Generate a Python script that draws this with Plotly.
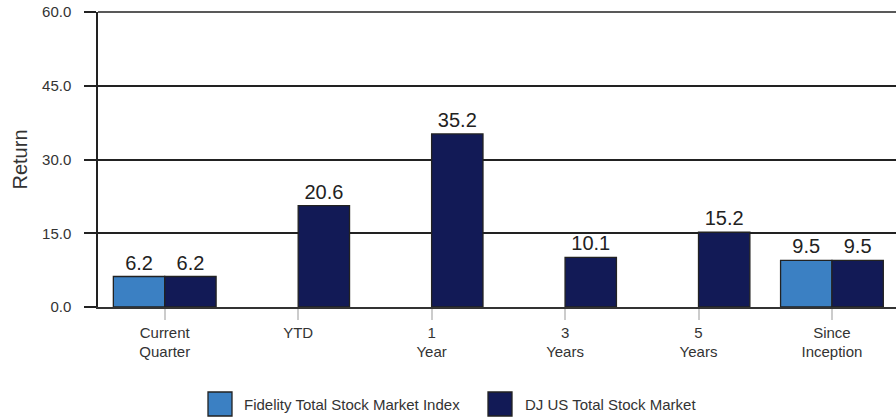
import plotly.graph_objects as go

categories = ["Current<br>Quarter", "YTD", "1<br>Year", "3<br>Years", "5<br>Years", "Since<br>Inception"]
fidelity = [6.2, None, None, None, None, 9.5]
dj_us = [6.2, 20.6, 35.2, 10.1, 15.2, 9.5]
series_names = ["Fidelity Total Stock Market Index", "DJ US Total Stock Market"]
colors = ["#3B80C3", "#121A56"]
y_ticks = [0, 15, 30, 45, 60]

FONT = "Liberation Sans, Arial, sans-serif"

PL, PT, PB, PW = 98, 12, 307, 798
PH = PB - PT

fig = go.Figure()
for name, vals, col in zip(series_names, [fidelity, dj_us], colors):
    fig.add_trace(go.Bar(
        x=categories, y=vals, name=name,
        marker=dict(color=col, line=dict(color="#222222", width=1.3)),
        text=[None if v is None else f"{v:.1f}" for v in vals],
        textposition="outside", cliponaxis=False,
        textfont=dict(size=20, color="#222222", family=FONT),
        showlegend=False, hoverinfo="skip",
    ))

fig.update_layout(
    width=896, height=417,
    margin=dict(l=PL, r=0, t=PT, b=417 - PB),
    paper_bgcolor="white", plot_bgcolor="white",
    barmode="group", bargap=0.23, bargroupgap=0,
    font=dict(family=FONT, color="#333333"),
    showlegend=False,
)
fig.update_xaxes(
    range=[-0.5, 5.48], automargin=False,
    showline=True, linecolor="#333333", linewidth=1.5,
    ticks="outside", ticklen=11, tickcolor="#cccccc", tickwidth=1.5,
    tickfont=dict(size=15, color="#333333"),
    showgrid=False,
)
fig.update_yaxes(
    range=[0, 60], tickvals=y_ticks, tickformat=".1f", automargin=False,
    showline=True, linecolor="#222222", linewidth=1.5,
    ticks="outside", ticklen=12, tickcolor="#222222", tickwidth=1.5,
    ticklabelstandoff=10,
    tickfont=dict(size=15, color="#333333"),
    showgrid=True, gridcolor="#222222", gridwidth=1.5,
    zeroline=False,
    title=dict(text="Return", font=dict(size=20, color="#333333"), standoff=9),
)
# top border line
fig.add_shape(type="line", xref="paper", yref="paper", x0=0, x1=1.01, y0=1, y1=1,
              line=dict(color="#222222", width=1.5))

# manual legend
legend_items = [(208, 242), (488, 523)]
cy = 404
for (sx, tx), name, col in zip(legend_items, series_names, colors):
    fig.add_shape(type="rect", xref="paper", yref="paper",
                  x0=(sx - PL) / PW, x1=(sx + 24 - PL) / PW,
                  y0=(PB - (cy + 12)) / PH, y1=(PB - (cy - 12)) / PH,
                  fillcolor=col, line=dict(color="#222222", width=1.3))
    fig.add_annotation(xref="paper", yref="paper", x=(tx - PL) / PW, y=(PB - cy) / PH,
                       text=name, showarrow=False, xanchor="left", yanchor="middle",
                       font=dict(size=15, color="#333333", family=FONT))

fig.write_html("out.html", config={"displayModeBar": False},
               post_script="document.body.style.margin='0';document.body.style.overflow='hidden';")
